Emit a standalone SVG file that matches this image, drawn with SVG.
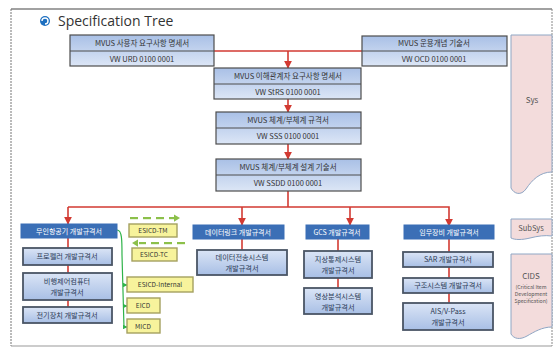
<svg xmlns="http://www.w3.org/2000/svg" width="554" height="347" viewBox="0 0 554 347">
<defs>
<linearGradient id="gMain" x1="0" y1="0" x2="0" y2="1">
<stop offset="0" stop-color="#a9c0e6"/><stop offset="1" stop-color="#dce6f6"/>
</linearGradient>
<linearGradient id="gSub" x1="0" y1="0" x2="0" y2="1">
<stop offset="0" stop-color="#dbe5f6"/><stop offset="1" stop-color="#a8bfe5"/>
</linearGradient>
<marker id="ar" viewBox="0 0 10 10" refX="9" refY="5" markerWidth="5" markerHeight="5" orient="auto">
<path d="M0,0 L10,5 L0,10 Z" fill="#d23a32"/>
</marker>
<marker id="ag" viewBox="0 0 10 10" refX="9" refY="5" markerWidth="4" markerHeight="4" orient="auto">
<path d="M0,0 L10,5 L0,10 Z" fill="#2fb34a"/>
</marker>
</defs>
<style>
text{font-family:"Noto Sans CJK KR","Noto Sans",sans-serif;fill:#333;text-anchor:middle}
.main{fill:url(#gMain);stroke:#4d4d4d;stroke-width:1.2}
.div{stroke:#4d4d4d;stroke-width:1}
.t{font-size:7.5px}
.hd{fill:#3b6fb6;stroke:#3b6fb6}
.hdt{font-size:7px;fill:#fff}
.sub{fill:url(#gSub);stroke:#4a5565;stroke-width:1.8}
.st{font-size:7.2px;fill:#2b3a55}
.yel{fill:#f7f39c;stroke:#a4a060;stroke-width:1.4}
.yt{font-size:6.5px;fill:#333}
.red{stroke:#d23a32;stroke-width:1.6;fill:none}
.pink{fill:#f3dcdc;stroke:#8fa6c4;stroke-width:1}
.pt{font-size:8px;fill:#555}
.dg{fill:#8cc04a}
</style>
<!-- frame -->
<line x1="11" y1="9" x2="552" y2="9" stroke="#444" stroke-width="1.2"/>
<line x1="11" y1="9" x2="11" y2="346" stroke="#777" stroke-width="1" stroke-dasharray="2,1"/>
<line x1="552" y1="9" x2="552" y2="346" stroke="#888" stroke-width="1" stroke-dasharray="2,1"/>
<line x1="11" y1="346" x2="552" y2="346" stroke="#999" stroke-width="1"/>
<!-- title -->
<g id="title">
<circle cx="45" cy="21" r="5" fill="#1d6fc0"/>
<path d="M42,21 a3,3 0 1 1 3,3" fill="none" stroke="#fff" stroke-width="1.4"/>
<text x="58" y="26" style="font-size:14px;text-anchor:start;fill:#333;font-family:'Open Sans','Noto Sans',sans-serif">Specification Tree</text>
</g>
<!-- connectors -->
<g id="connectors">
<line class="red" x1="214" y1="51" x2="362" y2="51"/>
<line class="red" x1="288" y1="51" x2="288" y2="68" marker-end="url(#ar)"/>
<line class="red" x1="288" y1="99" x2="288" y2="112" marker-end="url(#ar)"/>
<line class="red" x1="288" y1="144" x2="288" y2="159" marker-end="url(#ar)"/>
<line class="red" x1="288" y1="191" x2="288" y2="207"/>
<polyline class="red" points="68,207 449,207 449,226" marker-end="url(#ar)"/>
<line class="red" x1="68" y1="207" x2="68" y2="224" marker-end="url(#ar)"/>
<line class="red" x1="242" y1="207" x2="242" y2="225" marker-end="url(#ar)"/>
<line class="red" x1="350" y1="207" x2="350" y2="225" marker-end="url(#ar)"/>
<line class="red" x1="68" y1="238" x2="68" y2="307"/>
<line class="red" x1="242" y1="239" x2="242" y2="250"/>
<line class="red" x1="338" y1="239" x2="338" y2="288"/>
<line class="red" x1="449" y1="239" x2="449" y2="303"/>
<path d="M117,230 C122,230 122,240 122,255 L124,328" fill="none" stroke="#2fb34a" stroke-width="1.2"/>
<line x1="123" y1="285" x2="127" y2="285" stroke="#2fb34a" stroke-width="1.2" marker-end="url(#ag)"/>
<line x1="123" y1="306" x2="127" y2="306" stroke="#2fb34a" stroke-width="1.2" marker-end="url(#ag)"/>
<line x1="124" y1="327" x2="127" y2="327" stroke="#2fb34a" stroke-width="1.2" marker-end="url(#ag)"/>
<g id="dash-tm">
<rect class="dg" x="130" y="217" width="8" height="2.2"/>
<rect class="dg" x="143" y="217" width="8" height="2.2"/>
<rect class="dg" x="156" y="217" width="8" height="2.2"/>
<rect class="dg" x="169" y="217" width="6" height="2.2"/>
<polygon class="dg" points="174,214.5 180,218.1 174,221.7"/>
</g>
<g id="dash-tc">
<polygon class="dg" points="138,239.5 132,243.1 138,246.7"/>
<rect class="dg" x="139" y="242" width="7" height="2.2"/>
<rect class="dg" x="151" y="242" width="8" height="2.2"/>
<rect class="dg" x="164" y="242" width="8" height="2.2"/>
<rect class="dg" x="177" y="242" width="8" height="2.2"/>
</g>
</g>
<!-- top boxes -->
<g id="urd">
<rect class="main" x="70" y="35" width="144" height="31"/>
<line class="div" x1="70" y1="51" x2="214" y2="51"/>
<text class="t" x="142" y="46">MVUS 사용자 요구사항 명세서</text>
<text class="t" x="142" y="62">VW URD 0100 0001</text>
</g>
<g id="ocd">
<rect class="main" x="362" y="36" width="145" height="30"/>
<line class="div" x1="362" y1="51" x2="507" y2="51"/>
<text class="t" x="434" y="46">MVUS 운용개념 기술서</text>
<text class="t" x="434" y="62">VW OCD 0100 0001</text>
</g>
<g id="strs">
<rect class="main" x="214" y="68" width="147" height="31"/>
<line class="div" x1="214" y1="84" x2="361" y2="84"/>
<text class="t" x="288" y="79">MVUS 이해관계자 요구사항 명세서</text>
<text class="t" x="288" y="95">VW StRS 0100 0001</text>
</g>
<g id="sss">
<rect class="main" x="216" y="112" width="145" height="32"/>
<line class="div" x1="216" y1="128" x2="361" y2="128"/>
<text class="t" x="288" y="123">MVUS 체계/부체계 규격서</text>
<text class="t" x="288" y="139">VW SSS 0100 0001</text>
</g>
<g id="ssdd">
<rect class="main" x="216" y="159" width="145" height="32"/>
<line class="div" x1="216" y1="175" x2="361" y2="175"/>
<text class="t" x="288" y="170">MVUS 체계/부체계 설계 기술서</text>
<text class="t" x="288" y="186">VW SSDD 0100 0001</text>
</g>
<!-- level 1 headers -->
<g id="uav">
<rect class="hd" x="21" y="224" width="96" height="14"/>
<text class="hdt" x="69" y="234">무인항공기 개발규격서</text>
</g>
<g id="datalink">
<rect class="hd" x="193" y="225" width="91" height="14"/>
<text class="hdt" x="238" y="235">데이터링크 개발규격서</text>
</g>
<g id="gcs">
<rect class="hd" x="306" y="225" width="63" height="14"/>
<text class="hdt" x="337" y="235">GCS 개발규격서</text>
</g>
<g id="mission">
<rect class="hd" x="404" y="225" width="90" height="14"/>
<text class="hdt" x="449" y="235">임무장비 개발규격서</text>
</g>
<!-- sub boxes -->
<g id="propeller">
<rect class="sub" x="23" y="248" width="89" height="17"/>
<text class="st" x="67" y="259">프로펠러 개발규격서</text>
</g>
<g id="fcc">
<rect class="sub" x="23" y="273" width="89" height="27"/>
<text class="st" x="67" y="284">비행제어컴퓨터</text>
<text class="st" x="67" y="295">개발규격서</text>
</g>
<g id="electric">
<rect class="sub" x="23" y="307" width="89" height="16"/>
<text class="st" x="67" y="318">전기장치 개발규격서</text>
</g>
<g id="dts">
<rect class="sub" x="197" y="250" width="90" height="25"/>
<text class="st" x="242" y="260">데이터전송시스템</text>
<text class="st" x="242" y="271">개발규격서</text>
</g>
<g id="gcss">
<rect class="sub" x="304" y="251" width="68" height="27"/>
<text class="st" x="338" y="262">지상통제시스템</text>
<text class="st" x="338" y="273">개발규격서</text>
</g>
<g id="image">
<rect class="sub" x="304" y="288" width="68" height="26"/>
<text class="st" x="338" y="299">영상분석시스템</text>
<text class="st" x="338" y="310">개발규격서</text>
</g>
<g id="sar">
<rect class="sub" x="403" y="252" width="90" height="15"/>
<text class="st" x="448" y="262">SAR 개발규격서</text>
</g>
<g id="rescue">
<rect class="sub" x="403" y="278" width="90" height="15"/>
<text class="st" x="448" y="288">구조시스템 개발규격서</text>
</g>
<g id="ais">
<rect class="sub" x="403" y="303" width="90" height="27"/>
<text class="st" x="448" y="314">AIS/V-Pass</text>
<text class="st" x="448" y="325">개발규격서</text>
</g>
<!-- ICDs -->
<g id="esicd-tm">
<rect class="yel" x="129" y="224" width="48" height="13"/>
<text class="yt" x="153" y="233">ESICD-TM</text>
</g>
<g id="esicd-tc">
<rect class="yel" x="132" y="248" width="45" height="13"/>
<text class="yt" x="154" y="257">ESICD-TC</text>
</g>
<g id="esicd-int">
<rect class="yel" x="127" y="277" width="66" height="15"/>
<text class="yt" x="160" y="287">ESICD-Internal</text>
</g>
<g id="eicd">
<rect class="yel" x="127" y="298" width="33" height="15"/>
<text class="yt" x="143" y="308">EICD</text>
</g>
<g id="micd">
<rect class="yel" x="127" y="319" width="33" height="14"/>
<text class="yt" x="143" y="329">MICD</text>
</g>
<!-- levels -->
<g id="sys">
<path class="pink" d="M511,35 H552 V172 C540,172 532,180 526,189 C521,196 514,194 511,188 Z"/>
<text class="pt" x="532" y="103">Sys</text>
</g>
<g id="subsys">
<path class="pink" d="M511,219 H552 V236 C545,235 538,236 530,238 C522,240 515,240 511,238 Z"/>
<text class="pt" x="531" y="231" style="font-size:7.5px">SubSys</text>
</g>
<g id="cids">
<path class="pink" d="M511,254 H552 V327 C542,327 534,332 527,336 C520,340 514,339 511,334 Z"/>
<text class="pt" x="531" y="279">CIDS</text>
<text x="531" y="289" style="font-size:5.2px;fill:#555">(Critical Item</text>
<text x="531" y="296" style="font-size:5.2px;fill:#555">Development</text>
<text x="531" y="303" style="font-size:5.2px;fill:#555">Specification)</text>
</g>
</svg>
